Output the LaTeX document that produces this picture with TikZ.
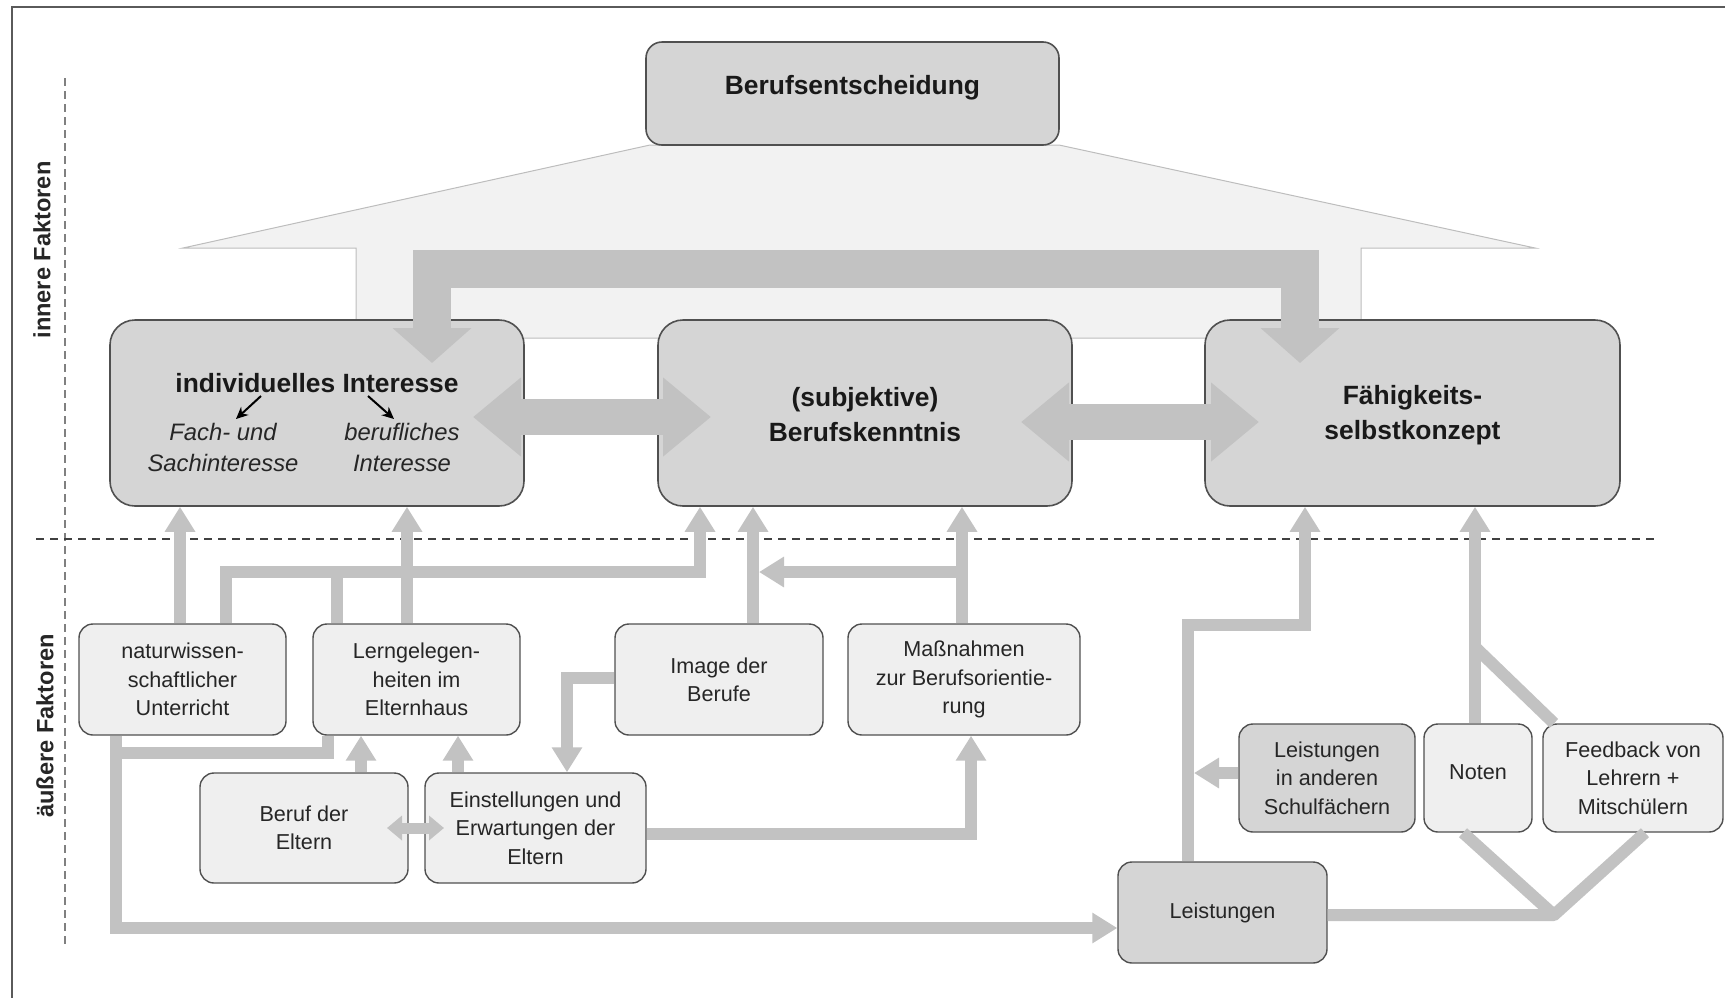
\documentclass[tikz,border=0pt]{standalone}
\usepackage{fontspec}
\setmainfont{Liberation Sans}
\usetikzlibrary{arrows.meta}
\definecolor{conncol}{HTML}{C2C2C2}
\definecolor{bigfill}{HTML}{D5D5D5}
\definecolor{smallfill}{HTML}{EFEFEF}
\definecolor{bordcol}{HTML}{505050}
\definecolor{housefill}{HTML}{F2F2F2}
\definecolor{houseline}{HTML}{BDBDBD}
\definecolor{txtcol}{HTML}{262626}
\definecolor{framecol}{HTML}{5A5A5A}
\begin{document}
\begin{tikzpicture}[x=0.5pt,y=-0.5pt,
  bigbox/.style={draw=bordcol, fill=bigfill, line width=0.8pt, rounded corners=12.5pt, inner sep=0pt},
  topbox/.style={draw=bordcol, fill=bigfill, line width=0.8pt, rounded corners=8pt, inner sep=0pt},
  smallbox/.style={draw=bordcol, fill=smallfill, line width=0.7pt, rounded corners=7pt, inner sep=0pt, align=center, font=\fontsize{10.8}{14.2}\selectfont, text=txtcol},
  darkbox/.style={smallbox, fill=bigfill},
  bigtext/.style={align=center, font=\fontsize{13.2}{17.5}\selectfont\bfseries, inner sep=0pt, text=black!90},
  ittext/.style={align=center, font=\fontsize{11.9}{15.5}\selectfont\itshape, inner sep=0pt, text=txtcol},
  sidetext/.style={rotate=90, font=\fontsize{11.8}{14}\selectfont\bfseries, inner sep=0pt, text=txtcol},
  conn/.style={draw=conncol, line width=6pt},
  conntip/.style={conn, -{Triangle[length=12.5pt,width=14.5pt]}},
  bigdbl/.style={draw=conncol, line width=18pt, {Triangle[length=24pt,width=38pt]}-{Triangle[length=24pt,width=38pt]}},
  uarrow/.style={draw=conncol, line width=19pt, {Triangle[length=17.5pt,width=38.5pt]}-{Triangle[length=17.5pt,width=38.5pt]}},
  smalldbl/.style={draw=conncol, line width=5.5pt, {Triangle[length=7.5pt,width=12pt]}-{Triangle[length=7.5pt,width=12pt]}},
  blackarrow/.style={draw=black, line width=1pt, -{Stealth[length=6pt,width=5.5pt]}}
]
\useasboundingbox (0,0) rectangle (1725,997);
% frame
\draw[framecol, line width=1.2pt] (12,1005) -- (12,7) -- (1735,7);
% dashed separators
\draw[gray, line width=0.6pt, dash pattern=on 4pt off 2.5pt] (65,78) -- (65,948);
\draw[black!75, line width=0.6pt, dash pattern=on 4pt off 3pt] (36,539) -- (1654,539);
% side labels
\node[sidetext] (inner) at (42,250) {innere Faktoren};
\node[sidetext] (outer) at (45,726) {äußere Faktoren};
% house shape
\draw[houseline, fill=housefill, line width=0.5pt] (650,145) -- (183,248) -- (356,248) -- (356,338) -- (1361,338) -- (1361,248) -- (1535,248) -- (1059,145) -- cycle;
% top box
\node[topbox, minimum width=206.5pt, minimum height=51.5pt] (T) at (852.5,93.5) {};
\node[bigtext] (Tt) at (852.5,88) {Berufsentscheidung};
% big boxes
\node[bigbox, minimum width=207pt, minimum height=93pt] (A) at (317,413) {};
\node[bigbox, minimum width=207pt, minimum height=93pt] (B) at (865,413) {};
\node[bigbox, minimum width=207.5pt, minimum height=93pt] (C) at (1412.5,413) {};
\node[bigtext] (At) at (317,383) {individuelles Interesse};
\node[ittext] (As1) at (223,447) {Fach- und\\Sachinteresse};
\node[ittext] (As2) at (402,447) {berufliches\\Interesse};
\coordinate (a1s) at (261,396);
\coordinate (a1e) at (236,419);
\coordinate (a2s) at (368,396);
\coordinate (a2e) at (394,419);
\draw[blackarrow] (a1s) -- (a1e);
\draw[blackarrow] (a2s) -- (a2e);
\node[bigtext] (Bt) at (865,415) {(subjektive)\\Berufskenntnis};
\node[bigtext] (Ct) at (1412.5,415) {Fähigkeits-\\selbstkonzept};
% big arrows
\draw[uarrow] (432,363) -- (432,269) -- (1300,269) -- (1300,363);
\draw[bigdbl] (473,417) -- (711,417);
\draw[bigdbl] (1021,422) -- (1259,422);
% lower boxes
\node[smallbox, minimum width=103.5pt, minimum height=55.5pt] (N) at (182.5,679.5) {naturwissen-\\schaftlicher\\Unterricht};
\node[smallbox, minimum width=103.5pt, minimum height=55.5pt] (L) at (416.5,679.5) {Lerngelegen-\\heiten im\\Elternhaus};
\node[smallbox, minimum width=104pt, minimum height=55.5pt] (I) at (719,679.5) {Image der\\Berufe};
\node[smallbox, minimum width=116pt, minimum height=55.5pt] (M) at (964,679.5) {Maßnahmen\\zur Berufsorientie-\\rung};
\node[smallbox, minimum width=104pt, minimum height=55pt] (BE) at (304,828) {Beruf der\\Eltern};
\node[smallbox, minimum width=110.5pt, minimum height=55pt] (EE) at (535.5,828) {Einstellungen und\\Erwartungen der\\Eltern};
\node[darkbox, minimum width=88pt, minimum height=54pt] (LAS) at (1327,778) {Leistungen\\in anderen\\Schulfächern};
\node[smallbox, minimum width=54pt, minimum height=54pt] (NO) at (1478,778) {};
\node[smallbox, draw=none, fill=none] (NOt) at (1478,772) {Noten};
\node[smallbox, minimum width=90pt, minimum height=54pt] (FB) at (1633,778) {Feedback von\\Lehrern +\\Mitschülern};
\node[darkbox, minimum width=104.5pt, minimum height=50.5pt] (LE) at (1222.5,912.5) {Leistungen};
% connectors
\draw[conntip] (180,0 |- N.north) -- (180,0 |- A.south);
\draw[conntip] (407,0 |- L.north) -- (407,0 |- A.south);
\draw[conntip] (226,0 |- N.north) -- (226,572) -- (700,572) -- (700,0 |- B.south);
\draw[conn] (337,0 |- L.north) -- (337,572);
\draw[conntip] (753,0 |- I.north) -- (753,0 |- B.south);
\draw[conntip] (962,0 |- M.north) -- (962,0 |- B.south);
\draw[conntip] (962,572) -- (759,572);
\draw[conntip] (I.west |- 0,678) -- (567,678) -- (567,0 |- EE.north);
\draw[conntip] (116,0 |- N.south) -- (116,928) -- (LE.west |- 0,928);
\draw[conn] (328,0 |- L.south) -- (328,753) -- (116,753);
\draw[conntip] (361,0 |- BE.north) -- (361,0 |- L.south);
\draw[conntip] (458,0 |- EE.north) -- (458,0 |- L.south);
\draw[smalldbl] (387,0 |- BE.east) -- (444,0 |- EE.west);
\draw[conntip] (EE.east |- 0,834) -- (971,834) -- (971,0 |- M.south);
\draw[conntip] (1188,0 |- LE.north) -- (1188,625) -- (1305,625) -- (1305,0 |- C.south);
\draw[conntip] (LAS.west |- 0,773) -- (1194,773);
\draw[conntip] (1475,0 |- NO.north) -- (1475,0 |- C.south);
\draw[conn] (1554,0 |- FB.north) -- (1475,647);
\draw[conn, line join=round] (LE.east |- 0,915) -- (1554,915) -- (1463,0 |- NO.south);
\draw[conn, line join=round] (1554,915) -- (1645,0 |- FB.south);
\end{tikzpicture}
\end{document}
